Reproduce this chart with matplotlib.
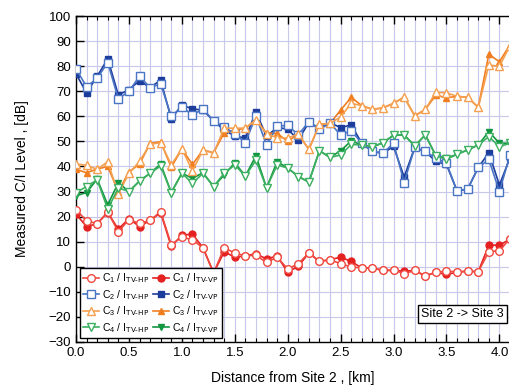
import matplotlib
matplotlib.use("Agg")
import matplotlib.pyplot as plt
from matplotlib.ticker import MultipleLocator

plt.rcParams["font.family"] = ["Liberation Sans", "DejaVu Sans"]
plt.rcParams["mathtext.default"] = "regular"

# ---- data (distance every 0.1 km) ----------------------------------
dist = [round(i * 0.1, 1) for i in range(42)]

c1_hp = [22.8, 18.3, 17.2, 21.8, 14.0, 18.8, 17.3, 18.5, 22.0, 8.8,
         11.8, 10.8, 7.5, -2.5, 7.5, 5.5, 4.3, 4.6, 1.7, 3.8,
         -0.9, 1.2, 5.5, 2.1, 2.8, 1.2, -0.1, -0.5, -0.5, -1.5,
         -1.3, -2.8, -1.5, -3.7, -2.2, -1.8, -2.0, -1.8, -2.0, 6.0,
         6.4, 11.2]
c1_vp = [21.0, 16.0, 17.2, 21.6, 15.0, 19.2, 16.0, 18.5, 21.5, 8.1,
         12.6, 13.0, 7.6, -2.5, 6.0, 3.8, 4.3, 5.2, 3.1, 4.3,
         -2.2, 0.2, 5.5, 2.1, 2.8, 3.8, 2.1, -0.5, -0.5, -1.5,
         -1.5, -1.8, -1.5, -3.7, -2.2, -3.1, -2.2, -1.8, -2.0, 8.6,
         8.6, 11.0]
c2_hp = [79.0, 71.8, 75.2, 81.5, 67.0, 70.0, 76.0, 71.5, 73.0, 60.0,
         63.8, 60.5, 63.0, 58.2, 55.8, 53.0, 49.5, 60.2, 48.6, 56.0,
         56.5, 52.6, 57.9, 54.9, 57.3, 52.6, 54.3, 49.3, 46.0, 45.3,
         49.3, 33.6, 47.6, 46.0, 43.3, 41.3, 30.2, 31.0, 39.6, 42.8,
         30.0, 44.6]
c2_vp = [77.0, 69.4, 76.0, 83.0, 68.5, 70.7, 74.2, 71.5, 74.5, 59.0,
         64.5, 63.0, 62.5, 58.2, 54.5, 52.2, 51.3, 61.8, 52.0, 55.6,
         54.9, 50.6, 57.6, 55.2, 57.5, 55.5, 56.6, 49.3, 46.0, 45.3,
         48.0, 35.8, 47.6, 46.0, 42.0, 40.8, 30.2, 31.0, 39.6, 45.5,
         32.6, 43.5]
c3_hp = [41.0, 40.5, 38.9, 41.9, 29.0, 37.3, 42.0, 48.9, 49.5, 40.7,
         47.0, 38.3, 46.6, 45.3, 55.3, 55.3, 55.3, 58.6, 53.0, 51.5,
         51.3, 53.0, 46.8, 56.8, 57.2, 59.8, 65.2, 64.3, 62.8, 63.4,
         65.2, 67.7, 60.2, 62.8, 69.6, 69.4, 68.0, 67.6, 63.6, 80.5,
         80.0, 88.2]
c3_vp = [38.9, 37.5, 39.0, 40.0, 30.0, 37.8, 41.0, 49.2, 49.9, 39.7,
         47.0, 40.8, 46.6, 45.5, 53.5, 54.5, 55.3, 58.6, 53.3, 53.2,
         50.0, 53.0, 46.8, 56.8, 57.2, 62.5, 67.6, 64.3, 62.8, 63.4,
         65.2, 67.7, 60.2, 62.8, 68.5, 67.4, 68.0, 67.6, 63.6, 84.8,
         81.8, 88.6]
c4_hp = [29.6, 32.0, 34.7, 23.0, 31.5, 30.0, 34.2, 37.3, 40.2, 29.6,
         37.3, 33.3, 37.3, 32.0, 37.3, 40.6, 36.2, 42.5, 31.5, 40.6,
         39.4, 36.0, 33.8, 46.3, 43.6, 44.6, 48.8, 48.6, 47.8, 49.5,
         52.6, 52.6, 48.2, 52.6, 44.3, 42.8, 44.9, 46.6, 48.6, 51.9,
         47.9, 49.3]
c4_vp = [28.3, 29.6, 35.0, 24.7, 33.5, 30.0, 34.2, 37.3, 41.0, 29.6,
         37.3, 35.3, 37.5, 32.0, 36.6, 41.5, 36.2, 44.3, 31.5, 41.9,
         39.4, 36.0, 33.8, 46.3, 43.6, 46.3, 50.2, 48.6, 47.8, 49.5,
         52.4, 52.6, 48.2, 52.6, 44.3, 43.3, 44.9, 46.6, 48.6, 53.9,
         49.3, 49.3]

labels_hp = [r"C$_%d$ / I$_{\text{TV-HP}}$" % i for i in range(1, 5)]
labels_vp = [r"C$_%d$ / I$_{\text{TV-VP}}$" % i for i in range(1, 5)]

# (series, colour, marker)
hp_series = [(c1_hp, "#f04a40", "o"), (c2_hp, "#4a74c4", "s"),
             (c3_hp, "#f5a050", "^"), (c4_hp, "#3cb060", "v")]
vp_series = [(c1_vp, "#e42020", "o"), (c2_vp, "#1c3c9c", "s"),
             (c3_vp, "#f07e20", "^"), (c4_vp, "#129640", "v")]

fig = plt.figure(figsize=(5.1, 3.85), dpi=100)
ax = fig.add_axes([0.149, 0.112, 0.851, 0.846])

handles_hp, handles_vp = [], []
for (y, c, m), lab in zip(vp_series, labels_vp):
    h, = ax.plot(dist, y, color=c, marker=m, ms=5, lw=1.2,
                 mfc=c, mec=c, label=lab, zorder=3)
    handles_vp.append(h)
for (y, c, m), lab in zip(hp_series, labels_hp):
    h, = ax.plot(dist, y, color=c, marker=m, ms=5.5, lw=1.2,
                 mfc="white", mec=c, mew=1.0, label=lab, zorder=4)
    handles_hp.append(h)

ax.set_xlim(0, 4.1)
ax.set_ylim(-30, 100)
ax.xaxis.set_major_locator(MultipleLocator(0.5))
ax.xaxis.set_minor_locator(MultipleLocator(0.1))
ax.yaxis.set_major_locator(MultipleLocator(10))
ax.xaxis.set_major_formatter(plt.FormatStrFormatter("%.1f"))
ax.grid(which="major", color="#c8c8ec", lw=0.8)
ax.grid(which="minor", axis="x", color="#c8c8ec", lw=0.8)
ax.set_axisbelow(True)
ax.tick_params(which="both", direction="in", top=True, labelsize=9.5)
ax.tick_params(which="major", length=6, width=1.0)
ax.tick_params(which="minor", length=3, width=0.8)
for s in ax.spines.values():
    s.set_linewidth(1.0)

ax.set_xlabel("Distance from Site 2 , [km]", fontsize=10, labelpad=9)
ax.set_ylabel("Measured C/I Level , [dB]", fontsize=10, labelpad=14)

leg = ax.legend(handles_hp + handles_vp, labels_hp + labels_vp, ncol=2,
                loc="lower left", fontsize=7.5, frameon=True, fancybox=False,
                edgecolor="black", framealpha=1, handlelength=1.5,
                handletextpad=0.3, columnspacing=0.4, labelspacing=0.25,
                borderpad=0.3, borderaxespad=0.4)
leg.get_frame().set_linewidth(1.0)

ax.text(0.985, 0.085, "Site 2 -> Site 3", transform=ax.transAxes,
        ha="right", va="center", fontsize=9,
        bbox=dict(boxstyle="square,pad=0.25", fc="white", ec="black", lw=1.0))

fig.savefig("out.png", dpi=100)
